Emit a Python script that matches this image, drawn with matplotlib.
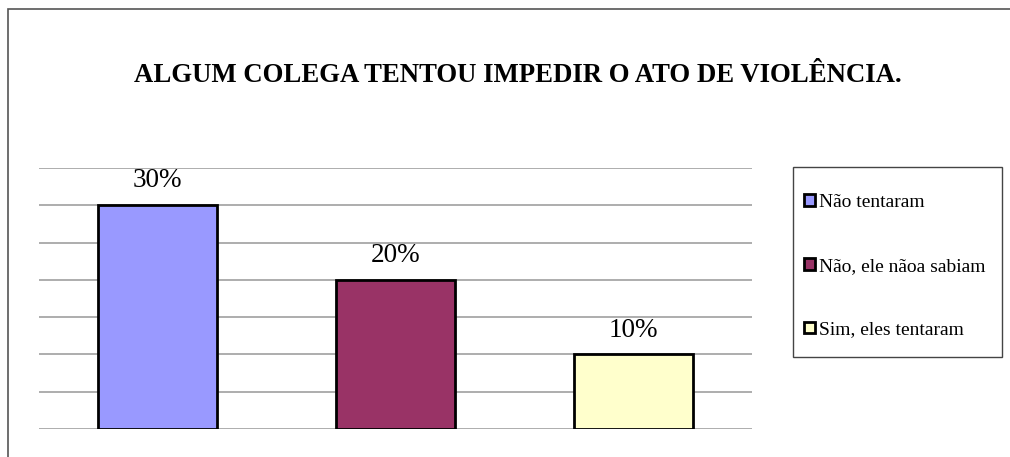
import matplotlib
matplotlib.use("Agg")
import matplotlib.pyplot as plt
from matplotlib.patches import Patch, Rectangle

# data
categorias = ["Não tentaram", "Não, ele nãoa sabiam", "Sim, eles tentaram"]
valores = [30, 20, 10]
rotulos = ["30%", "20%", "10%"]
cores = ["#9999FF", "#993366", "#FFFFCC"]
titulo = "ALGUM COLEGA TENTOU IMPEDIR O ATO DE VIOLÊNCIA."

plt.rcParams["font.family"] = ["Liberation Serif", "DejaVu Serif"]

W, H = 1010, 457
fig = plt.figure(figsize=(W / 100, H / 100), dpi=100)

# outer chart frame (right/bottom edges fall outside the picture)
fig.patches.append(Rectangle((8 / W, -0.1), 1.2, 1 - 9 / H + 0.1,
                             transform=fig.transFigure, fill=False,
                             edgecolor="#555555", linewidth=1.2))
# legend box
fig.patches.append(Rectangle((793 / W, 1 - 357 / H), (1002 - 793) / W, (357 - 167) / H,
                             transform=fig.transFigure, fill=False,
                             edgecolor="#444444", linewidth=1))

ax = fig.add_axes([39 / W, (H - 429) / H, (752 - 39) / W, (429 - 168) / H])
x = range(len(valores))
ax.bar(x, valores, width=0.5, color=cores, edgecolor="black", linewidth=2, zorder=3)
for i, (v, r) in enumerate(zip(valores, rotulos)):
    ax.annotate(r, (i, v), xytext=(0, 8.5), textcoords="offset points",
                ha="center", va="bottom", fontsize=19.5)

ax.set_xlim(-0.5, 2.5)
ax.set_ylim(0, 35)
ax.set_yticks(range(0, 36, 5))
ax.set_xticks([])
ax.tick_params(left=False, labelleft=False)
ax.yaxis.grid(True, color="#A0A0A0", linewidth=1.2)
ax.set_axisbelow(True)
for s in ax.spines.values():
    s.set_visible(False)

fig.text(518 / W, 1 - 75 / H, titulo, ha="center", va="center",
         fontsize=19.3, fontweight="bold")

handles = [Patch(facecolor=c, edgecolor="black", linewidth=2) for c in cores]
leg = fig.legend(handles, categorias, loc="upper left",
                 bbox_to_anchor=(804 / W, 1 - 194 / H),
                 borderaxespad=0, fontsize=14, frameon=False,
                 labelspacing=2.4, handlelength=0.55, handleheight=0.55,
                 handletextpad=0.2, borderpad=0)

fig.savefig("out.png", dpi=100)
